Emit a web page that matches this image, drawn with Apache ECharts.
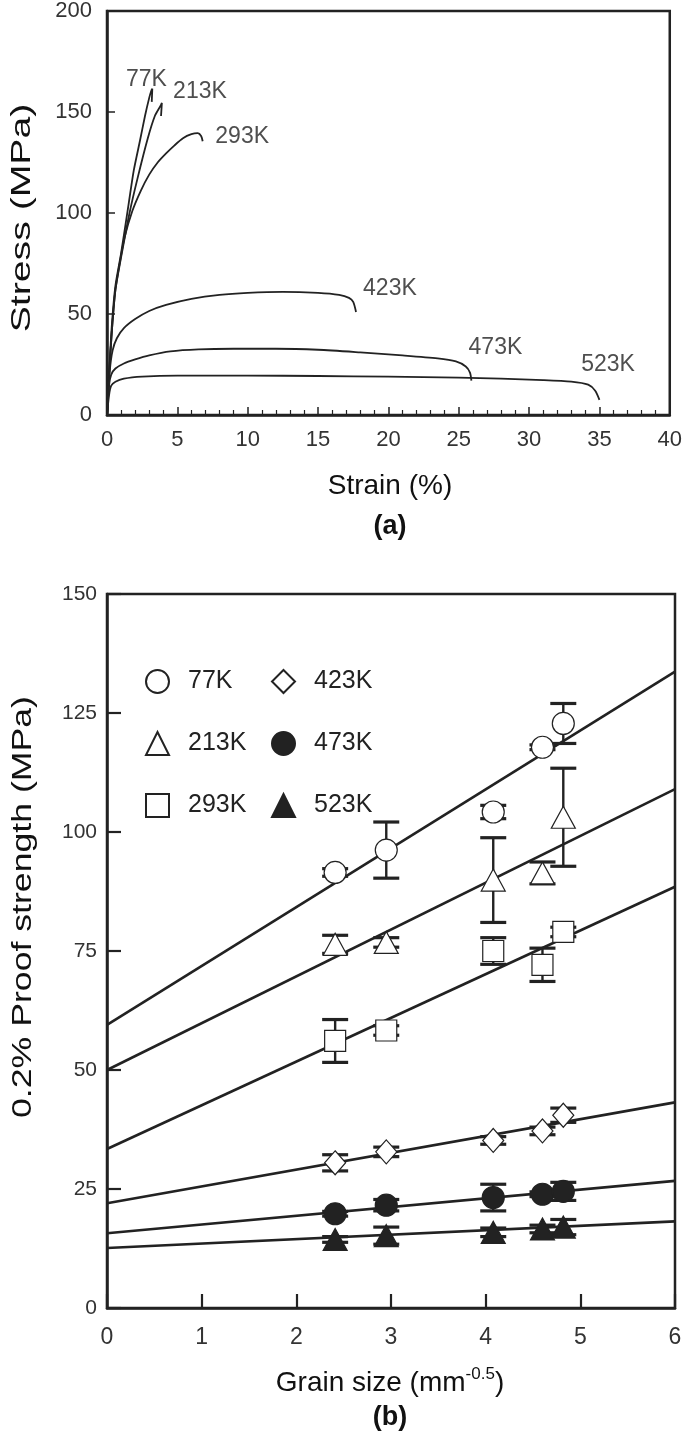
<!DOCTYPE html>
<html><head><meta charset="utf-8">
<script src="https://cdn.jsdelivr.net/npm/echarts@6.0.0/dist/echarts.min.js"></script>
<style>html,body{margin:0;padding:0;background:#fff}#c{width:685px;height:1443px}</style>
</head><body><div id="c"></div>
<script>
// ---------- (a) stress-strain curves: [strain %, stress MPa] ----------
const curveNames = ['77K','213K','293K','423K','473K','523K'];
const c77  = [[0,0],[0.15,21],[0.35,45],[0.6,64],[1.0,80],[1.55,105],[1.9,121],[2.35,136],[2.7,148],[3.0,157],[3.15,160.5],[3.22,161.5],[3.18,155]];
const c213 = [[0,0],[0.15,20],[0.35,42],[0.6,62],[1.0,78],[1.6,100],[2.2,118],[2.9,137],[3.4,148],[3.8,153],[3.9,154.5],[3.84,148]];
const c293 = [[0,0],[0.15,20],[0.35,42],[0.6,62],[1.0,79],[1.25,88],[1.8,101],[2.4,111],[3.0,119],[3.6,125],[4.2,129.5],[4.8,133.5],[5.4,137],[6.0,139],[6.45,139.5],[6.7,138],[6.8,135.5]];
const c423 = [[0,0],[0.2,22],[0.4,32],[0.7,38],[1.2,43],[2,47.5],[3,51.5],[4.2,54.5],[6,57.5],[8,59.5],[10,60.5],[12.5,61],[15,60.5],[16.5,59.5],[17.2,58],[17.5,56],[17.7,51]];
const c473 = [[0,0],[0.15,15],[0.3,20],[0.6,23],[1.2,25.5],[2,27.5],[3,29.5],[4.5,31.5],[6.5,32.5],[9,32.8],[12,32.8],[15,32.3],[18,31],[21,29.5],[23.5,28],[24.8,26.5],[25.5,24],[25.8,21],[25.9,17]];
const c523 = [[0,0],[0.15,10],[0.3,14.5],[0.6,16.5],[1.2,18],[2.5,19],[5,19.5],[10,19.5],[15,19.3],[20,19],[25,18.5],[28,18],[31,17.3],[33,16.5],[34.2,15],[34.7,12],[35,7.5]];
const curveLabelAt = [[1.35,166],[4.7,160],[7.7,138],[18.2,62.5],[25.7,33.5],[33.7,25]];
const strainTicks = {min:0, max:40, interval:5};
const stressTicks = {min:0, max:200, interval:50};

// ---------- (b) proof strength vs grain size ----------
const grainSize = [2.41, 2.95, 4.08, 4.60, 4.82];
const ps77  = [91.5, 96.2, 104.2, 117.8, 122.8];
const ps213 = [76.4, 76.8, 89.9, 91.4, 103.1];
const ps293 = [56.1, 58.3, 75.0, 72.1, 79.0];
const ps423 = [30.5, 32.8, 35.2, 37.2, 40.5];
const ps473 = [19.8, 21.6, 23.2, 23.9, 24.5];
const ps523 = [14.4, 15.2, 15.9, 16.6, 17.0];
const er77  = [0.8, 5.9, 1.4, 0.5, 4.2];
const er213 = [1.9, 1.0, 8.9, 2.3, 10.3];
const er293 = [4.5, 1.0, 2.8, 3.5, 1.0];
const er423 = [1.7, 1.0, 0.8, 0.8, 1.5];
const er473 = [0.5, 1.2, 2.8, 0.5, 1.9];
const er523 = [0.6, 1.8, 0.9, 0.8, 1.6];
const fitX = [0, 6];
const fitStart = [59.5, 50.0, 33.4, 22.0, 15.7, 12.6];
const fitEnd   = [133.7, 109.0, 88.5, 43.2, 26.7, 18.2];
const grainTicks = {min:0, max:6, interval:1};
const proofTicks = {min:0, max:150, interval:25};

const curves = [c77,c213,c293,c423,c473,c523];
const psAll = [ps77,ps213,ps293,ps423,ps473,ps523];
const erAll = [er77,er213,er293,er423,er473,er523];
const symbols = ['circle','triangle','rect','diamond','circle','triangle'];
const filled = [false,false,false,false,true,true];

const INK = '#222';
const FONT = "'Liberation Sans', Arial, Helvetica, sans-serif";

const series = [];
curves.forEach((c,i)=>{
  series.push({type:'line', name:'curve '+curveNames[i], xAxisIndex:0, yAxisIndex:0, data:c,
    showSymbol:false, smooth:0.25, lineStyle:{color:INK, width:1.8}, silent:true, z:3});
});
series.push({type:'scatter', name:'curve labels', xAxisIndex:0, yAxisIndex:0, symbolSize:0,
  data: curveLabelAt.map((p,i)=>({value:p, name:curveNames[i]})),
  label:{show:true, position:'right', distance:0, formatter:'{b}', fontSize:23, color:INK, fontFamily:FONT}, silent:true});

const symSize = {circle:22, triangle:[24,22], rect:21, diamond:[21,24]};
psAll.forEach((ps,i)=>{
  series.push({type:'line', name:'fit '+curveNames[i], xAxisIndex:1, yAxisIndex:1,
    data: fitX.map((x,k)=>[x, k===0?fitStart[i]:fitEnd[i]]), showSymbol:false,
    lineStyle:{color:INK, width:2.6}, silent:true, z:2});
  series.push({type:'custom', name:'err '+curveNames[i], xAxisIndex:1, yAxisIndex:1,
    data: grainSize.map((g,k)=>[g, ps[k], erAll[i][k]]), silent:true, z:3,
    renderItem:(params, api)=>{
      const x=api.value(0), v=api.value(1), e=api.value(2);
      const t=api.coord([x, v+e]), b=api.coord([x, v-e]);
      const hw=13;
      const st={stroke:INK, lineWidth:2.4};
      const cs={stroke:INK, lineWidth:3.2};
      return {type:'group', children:[
        {type:'line', shape:{x1:t[0],y1:t[1],x2:b[0],y2:b[1]}, style:st},
        {type:'line', shape:{x1:t[0]-hw,y1:t[1],x2:t[0]+hw,y2:t[1]}, style:cs},
        {type:'line', shape:{x1:b[0]-hw,y1:b[1],x2:b[0]+hw,y2:b[1]}, style:cs}
      ]};
    }});
  series.push({type:'scatter', name:curveNames[i], xAxisIndex:1, yAxisIndex:1,
    data: grainSize.map((g,k)=>[g, ps[k]]), symbol:symbols[i], symbolSize: symSize[symbols[i]],
    itemStyle:{color: filled[i]?INK:'#fff', borderColor:INK, borderWidth:1.2, opacity:1}, z:5});
});

const baseAxis = (g)=>({gridIndex:g, type:'value', splitLine:{show:false},
  axisLine:{show:true, onZero:false, lineStyle:{color:INK, width:2.5}}});

const legendText = {fontSize:25, color:INK, fontFamily:FONT,
  rich:{t:{fontSize:25, color:INK, fontFamily:FONT, padding:[0,0,0,14]}}};

const option = {
  animation:false,
  backgroundColor:'#fff',
  textStyle:{fontFamily:FONT},
  grid:[
    {left:107, top:8, width:565, height:407, show:true, borderColor:INK, borderWidth:2.5},
    {left:107, top:594, width:568, height:714, show:true, borderColor:INK, borderWidth:2.5}
  ],
  xAxis:[
    Object.assign(baseAxis(0), strainTicks, {
      axisTick:{inside:true, length:8, lineStyle:{color:INK, width:1.5}},
      minorTick:{show:true, splitNumber:5, length:5, lineStyle:{color:INK, width:1.2}},
      axisLabel:{fontSize:22, color:'#333', margin:14, fontFamily:FONT}}),
    Object.assign(baseAxis(1), grainTicks, {
      axisTick:{inside:true, length:14, lineStyle:{color:INK, width:2.2}},
      axisLabel:{fontSize:23, color:'#333', margin:18, fontFamily:FONT}})
  ],
  yAxis:[
    Object.assign(baseAxis(0), stressTicks, {
      axisTick:{inside:true, length:8, lineStyle:{color:INK, width:1.5}},
      axisLabel:{fontSize:22, color:'#333', margin:15, fontFamily:FONT}}),
    Object.assign(baseAxis(1), proofTicks, {
      axisTick:{inside:true, length:14, lineStyle:{color:INK, width:2.2}},
      axisLabel:{fontSize:21, color:'#333', margin:10, fontFamily:FONT}})
  ],
  legend:[
    {data:curveNames.slice(0,3), orient:'vertical', left:140, top:664, itemWidth:23, itemHeight:23,
     itemGap:37, selectedMode:false, formatter:'{t|{name}}', textStyle:legendText},
    {data:curveNames.slice(3), orient:'vertical', left:266, top:664, itemWidth:23, itemHeight:23,
     itemGap:37, selectedMode:false, formatter:'{t|{name}}', textStyle:legendText}
  ],
  graphic:[
    {type:'text', x:22, y:218, rotation:Math.PI/2, scaleX:1.4, style:{text:'Stress (MPa)', fontSize:28, fontFamily:FONT, fill:'#111', align:'center', verticalAlign:'middle'}},
    {type:'text', x:390, y:486, style:{text:'Strain (%)', fontSize:28, fontFamily:FONT, fill:'#111', align:'center', verticalAlign:'middle'}},
    {type:'text', x:390, y:527, style:{text:'(a)', fontSize:27, fontWeight:'bold', fontFamily:FONT, fill:'#111', align:'center', verticalAlign:'middle'}},
    {type:'text', x:24, y:907, rotation:Math.PI/2, scaleX:1.32, style:{text:'0.2% Proof strength (MPa)', fontSize:27, fontFamily:FONT, fill:'#111', align:'center', verticalAlign:'middle'}},
    {type:'text', x:390, y:1383, style:{text:'{a|Grain size (mm}{s|-0.5}{a|)}', fontFamily:FONT, fill:'#111', align:'center', verticalAlign:'middle',
      rich:{a:{fontSize:28, fontFamily:FONT, fill:'#111', lineHeight:34}, s:{fontSize:17, fontFamily:FONT, fill:'#111', verticalAlign:'top', padding:[0,0,14,0], lineHeight:34}}}},
    {type:'text', x:390, y:1418, style:{text:'(b)', fontSize:27, fontWeight:'bold', fontFamily:FONT, fill:'#111', align:'center', verticalAlign:'middle'}}
  ],
  series
};
const chart = echarts.init(document.getElementById('c'), null, {renderer:'canvas'});
chart.setOption(option);
</script></body></html>
